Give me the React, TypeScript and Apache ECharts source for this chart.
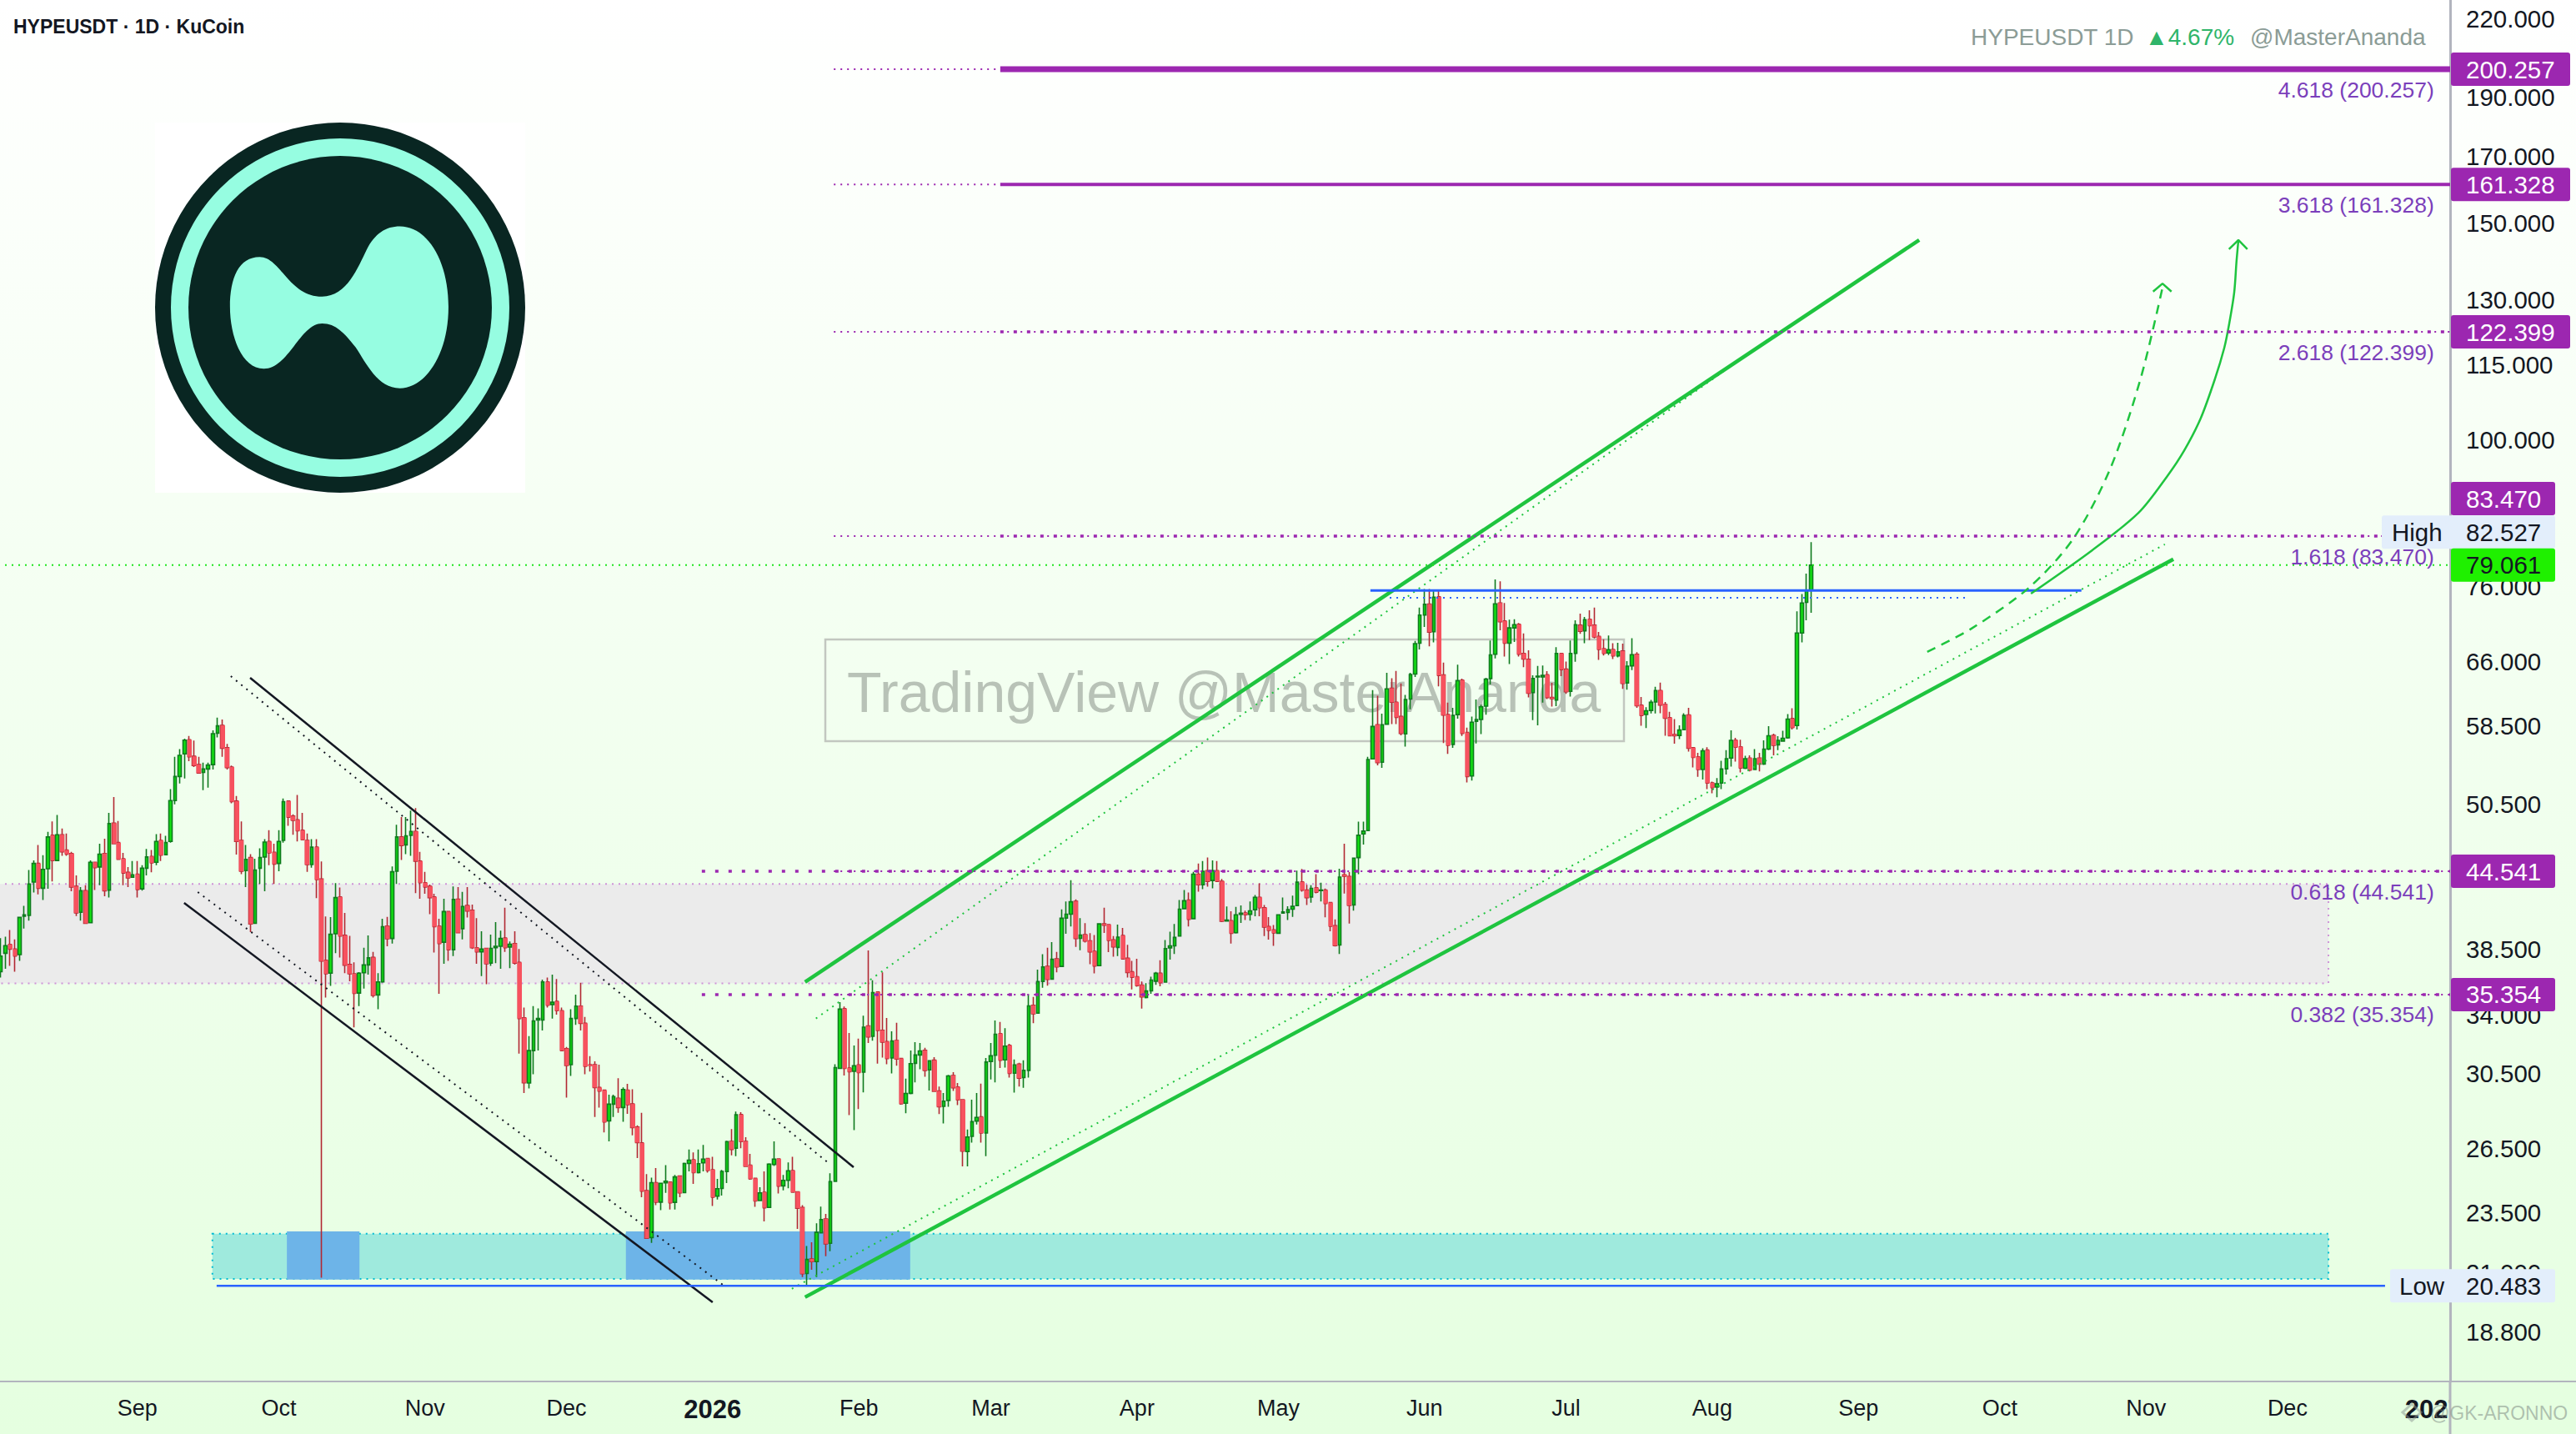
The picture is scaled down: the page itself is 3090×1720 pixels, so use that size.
import React, { useEffect, useRef } from "react";
import * as echarts from "echarts";

// ---------- data ----------
const firstDay = Date.UTC(2025, 7, 3);
const dayCount = 520;
const monthNames = ["", "Feb", "Mar", "Apr", "May", "Jun", "Jul", "Aug", "Sep", "Oct", "Nov", "Dec"];
const categories: string[] = [];
for (let i = 0; i < dayCount; i++) categories.push(new Date(firstDay + i * 86400000).toISOString().slice(0, 10));

const priceTicks = [220, 190, 170, 150, 130, 115, 100, 76, 66, 58.5, 50.5, 38.5, 34, 30.5, 26.5, 23.5, 21, 18.8];
const priceMin = 17.12;
const priceMax = 227.99;

// [open, close, low, high], one per day
const ohlc: number[][] = [
[36.9,38.0,36.5,39.3],[38.2,38.75,37.1,39.4],[38.84,38.5,37.3,39.9],[38.5,38.0,36.9,39.2],[38.1,40.85,37.65,40.9],
[40.95,41.05,40.0,41.75],[41.0,43.5,40.6,44.65],[43.65,45.2,42.8,45.45],[45.2,43.15,42.65,46.8],[43.15,44.7,42.2,45.9],
[44.75,47.5,43.1,47.95],[47.65,45.45,43.7,48.9],[45.45,47.7,45.4,49.5],[47.7,46.2,45.85,48.25],[46.35,46.0,45.85,47.8],
[46.05,43.25,42.9,46.2],[43.3,41.2,40.95,44.2],[41.25,42.95,40.6,43.25],[42.95,40.4,40.4,43.4],[40.45,45.3,40.4,45.45],
[45.3,44.85,43.0,45.3],[44.9,46.0,43.4,46.9],[46.05,42.95,42.5,47.35],[43.0,48.7,42.4,49.7],[48.75,46.9,46.85,51.2],
[47.0,45.55,45.55,48.95],[45.6,44.4,43.4,46.1],[44.45,44.0,43.25,44.9],[44.05,44.25,44.0,45.4],[44.3,43.05,42.4,45.4],
[43.1,44.8,42.95,45.05],[44.8,45.75,44.2,46.45],[45.8,45.25,44.45,46.35],[45.3,47.1,45.05,47.75],[47.2,45.9,45.4,47.8],
[45.95,47.0,45.95,47.6],[47.1,50.85,47.0,51.95],[50.85,53.2,50.5,55.2],[53.2,55.35,52.5,56.0],[55.5,56.95,53.0,57.1],
[57.0,55.2,54.75,57.4],[55.25,54.3,54.15,56.9],[54.4,53.55,53.5,55.2],[53.6,53.95,51.85,54.6],[53.95,54.35,52.1,54.6],
[54.4,57.65,53.9,58.0],[57.7,58.5,57.25,59.4],[58.55,56.1,55.2,59.2],[56.15,54.1,53.9,56.55],[54.15,50.75,50.6,54.3],
[50.8,47.1,45.95,51.3],[47.2,44.55,44.3,48.9],[44.6,45.55,43.25,46.8],[45.7,40.35,39.75,46.0],[40.4,44.65,40.4,45.6],
[44.8,45.7,43.5,46.5],[45.75,47.05,42.9,47.3],[47.1,46.1,45.05,48.1],[46.15,45.15,43.5,46.9],[45.2,47.1,44.55,48.1],
[47.2,50.75,47.0,51.05],[50.8,49.3,48.5,50.8],[49.4,49.0,47.7,49.55],[49.05,48.05,47.1,51.4],[48.1,47.25,47.25,49.7],
[47.2,45.1,44.5,47.8],[45.1,46.6,44.85,47.3],[46.6,43.85,42.35,47.3],
[43.9,37.64,20.8,45.37],[37.7,36.76,35.15,40.92],[36.8,39.58,35.93,40.88],[39.62,42.4,38.2,43.56],[42.45,39.45,37.9,43.2],
[39.5,37.35,36.8,41.2],[37.4,36.76,36.25,39.47],[36.76,35.43,33.25,37.55],[35.45,36.8,34.6,36.87],[36.83,37.37,35.75,38.6],
[37.37,37.87,36.7,39.5],[37.9,35.3,35.15,38.3],[35.33,36.2,34.4,36.8],[36.2,40.15,36.15,40.75],[40.2,39.25,38.7,40.9],
[39.27,44.5,38.9,44.95],[44.55,47.5,43.5,48.6],[47.5,46.75,45.5,49.3],[46.8,47.6,46.0,49.3],[47.65,48.0,45.85,49.9],
[48.0,45.4,42.75,50.15],[45.4,43.6,42.3,46.2],[43.6,43.25,42.7,44.5],[43.3,42.4,41.1,43.45],[42.45,40.15,38.25,42.7],
[40.2,38.9,35.4,40.75],[39.0,41.3,37.45,42.3],[41.3,38.45,37.65,41.3],[38.45,42.25,38.0,43.3],[42.27,39.7,39.7,43.25],
[40.0,41.7,39.2,42.85],[41.77,41.35,40.85,43.25],[41.4,38.6,38.5,41.85],[38.6,38.3,37.45,40.8],[38.3,38.5,36.6,39.8],
[38.55,37.45,36.05,38.55],[37.5,38.55,37.3,39.55],[38.6,38.7,37.5,40.5],[38.7,39.27,37.1,39.85],[39.3,38.6,38.3,41.6],
[38.65,38.85,37.15,39.05],[38.9,37.5,37.4,39.8],[37.55,33.8,31.65,38.5],[33.85,29.97,29.4,34.5],[29.95,31.83,29.65,32.7],
[31.83,33.65,30.45,34.6],[33.7,33.8,31.83,34.45],[33.7,36.2,33.05,36.35],[36.2,34.65,34.5,36.5],[34.7,34.85,33.8,36.7],
[34.9,34.3,34.05,36.4],[34.3,31.83,31.83,34.5],[31.95,30.95,29.15,32.05],[31.0,33.8,30.35,34.4],[33.8,34.6,33.4,35.35],
[34.6,33.5,33.05,36.15],[33.5,30.9,30.45,33.9],[31.0,30.95,30.6,31.5],[31.0,29.7,28.1,31.2],[29.7,29.5,28.6,31.0],
[29.55,27.84,27.3,29.55],[27.9,28.79,26.85,29.3],[28.79,29.2,28.1,29.3],
[29.11,28.61,28.32,30.22],[28.61,29.59,27.85,29.71],[29.56,28.76,28.27,29.91],[28.8,27.55,27.16,29.6],[27.58,26.79,26.02,27.67],
[26.77,24.46,24.18,28.32],[24.48,22.39,22.39,25.25],[22.42,24.85,22.2,25.09],[24.85,23.96,23.82,25.54],[23.96,24.82,23.6,24.82],
[24.84,24.92,24.38,25.68],[24.88,23.93,23.63,24.88],[23.95,25.12,23.63,25.21],[25.16,24.38,24.18,25.18],[24.39,25.76,24.38,25.8],
[25.76,25.92,25.38,26.44],[25.94,25.32,24.79,26.3],[25.32,25.75,25.28,26.44],[25.79,25.97,25.38,26.67],[26.0,25.42,25.32,26.0],
[25.46,24.18,23.79,26.08],[24.23,24.57,24.08,25.03],[24.58,25.38,24.26,25.45],[25.37,26.84,24.83,26.88],[26.85,26.45,26.16,27.48],
[26.51,28.22,26.12,28.39],[28.23,26.84,26.51,28.36],[26.85,25.62,25.6,27.06],[25.68,25.03,24.99,26.23],[25.05,24.01,23.75,25.08],
[24.03,24.38,24.01,24.64],[24.41,23.71,23.11,25.38],[23.72,25.73,23.7,25.77],[25.71,25.97,25.64,26.85],[25.98,24.69,24.35,25.98],
[24.7,24.96,24.49,25.21],[24.96,25.41,24.59,25.81],[25.42,24.41,24.41,26.08],[24.43,23.69,22.79,24.43],[23.72,20.95,20.82,23.82],
[20.96,21.52,20.483,22.07],[21.54,21.43,21.11,22.22],[21.43,22.64,20.82,23.03],[22.62,23.19,22.6,23.76],[23.22,22.16,21.65,23.44],
[22.18,24.9,21.85,25.29],[24.91,30.83,24.9,31.03],
[30.78,34.4,30.78,34.85],[34.43,30.78,30.38,34.57],[30.81,30.59,28.2,32.9],[30.62,30.94,27.42,32.14],[30.99,30.54,28.52,32.55],
[30.57,33.26,29.43,33.98],[33.33,32.66,32.29,38.4],[32.69,35.48,32.43,36.31],[35.52,33.06,31.06,35.52],[33.06,32.34,31.42,36.85],
[32.37,31.36,31.03,33.84],[31.39,32.41,30.5,33.0],[32.44,31.33,30.94,33.53],[31.36,28.81,28.76,31.36],[28.84,29.37,28.3,30.2],
[29.38,31.06,29.33,31.84],[31.08,31.57,29.99,32.34],[31.57,31.81,30.73,32.29],[31.84,30.67,30.3,32.0],[30.7,31.23,29.53,31.24],
[31.26,29.49,29.46,31.44],[29.51,28.65,28.26,29.76],[28.67,28.95,27.77,29.4],[28.99,30.35,28.65,30.41],[30.38,29.69,29.51,30.57],
[29.73,29.02,28.74,29.95],[29.03,26.36,25.62,29.03],[26.34,27.07,25.62,27.45],[27.1,27.86,26.79,29.03],[27.89,28.08,27.71,29.4],
[28.11,27.27,26.79,29.92],[27.27,31.15,26.12,31.39],[31.19,31.52,30.15,32.29],[31.55,32.82,29.99,33.68],[32.86,31.26,30.81,33.58],
[31.28,32.1,30.83,33.2],[32.14,30.5,30.26,32.24],[30.51,30.99,29.42,31.3],[31.03,30.23,29.76,31.11],[30.26,30.67,29.69,31.26],
[30.67,34.61,30.26,35.37],[34.65,34.1,33.5,35.2],[34.14,36.22,34.1,37.04],[36.23,37.23,35.8,38.13],[37.27,36.37,35.95,38.6],
[36.39,37.77,36.37,39.0],[37.8,37.23,36.85,38.3],[37.27,40.79,37.23,41.47],[40.8,41.1,39.62,42.1],[41.1,42.07,40.17,43.8],
[42.1,39.27,38.66,42.25],[39.28,39.52,38.41,40.79],[39.56,39.08,38.98,40.42],[39.1,38.3,37.42,39.66],[38.34,37.3,36.79,39.52],
[37.32,40.36,37.3,40.42],[40.36,40.26,39.68,41.6],[40.3,39.13,38.28,40.36],[39.17,38.66,37.95,39.45],[38.62,39.37,38.0,40.3],
[39.49,37.8,37.76,40.05],[37.84,36.85,36.5,38.8],[36.89,36.52,35.7,37.65],[36.56,35.95,35.87,37.8],[35.99,35.2,34.43,36.23],
[35.16,35.59,35.1,36.12],[35.6,36.33,35.4,36.56],
[36.25,36.79,36.0,36.89],[36.79,36.15,35.9,37.7],[36.19,38.53,36.15,39.15],[38.59,38.73,37.75,39.78],[38.73,39.35,38.15,40.35],
[39.45,41.49,39.43,42.2],[41.53,42.15,41.49,43.0],[42.2,40.71,40.17,42.8],[40.76,44.3,40.71,44.5],[44.3,43.43,42.87,45.2],
[43.43,44.54,43.07,45.4],[44.59,43.71,43.28,45.7],[43.78,44.59,43.14,45.45],[44.6,43.71,43.71,45.4],[43.71,40.56,40.5,43.9],
[40.58,40.65,40.54,41.7],[40.6,39.66,38.9,41.33],[39.7,41.05,39.64,41.67],[41.09,41.18,40.43,41.78],[41.2,41.05,40.65,41.38],
[41.09,41.36,40.6,42.1],[41.45,42.42,40.94,42.6],[42.42,41.6,40.94,43.55],[41.6,40.12,39.45,41.82],[40.16,39.87,39.19,40.88],
[39.91,39.68,38.73,40.28],[39.66,41.05,39.64,41.1],[41.18,41.27,41.15,42.4],[41.23,41.45,40.65,41.71],[41.49,41.71,40.9,42.56],
[41.76,43.64,41.71,44.59],[43.66,43.0,42.87,44.73],[43.0,42.4,41.82,43.43],[42.45,43.14,42.0,43.4],[43.19,42.83,42.74,44.3],
[42.96,43.0,42.1,43.6],[43.0,41.93,40.86,43.12],[42.0,40.18,39.81,42.04],[40.22,38.75,38.69,40.7],[38.79,44.06,38.15,44.75],
[44.25,44.13,42.72,46.9],[44.11,41.78,40.38,44.48],[41.82,45.65,41.38,45.7],[45.7,47.65,44.3,48.88],[47.77,48.02,46.83,48.88],
[48.07,54.92,48.02,55.2],[54.98,58.43,54.92,62.55],[58.62,54.61,54.32,61.9],[54.64,58.62,54.06,59.84],[58.68,62.7,58.62,64.6],
[62.77,61.15,58.68,63.96],[61.15,59.44,58.68,64.85],[59.53,57.68,57.46,63.33],[57.62,61.45,56.27,62.0],[61.5,64.4,60.35,64.6],
[64.46,68.24,64.1,68.6],[68.3,72.0,67.5,73.0],[72.0,73.46,70.4,75.6],[73.5,69.74,67.9,75.6],[69.77,74.45,68.4,75.4],
[74.5,64.3,63.0,75.5],[64.35,59.68,56.65,65.85],[59.74,56.4,55.5,61.1],[56.5,59.65,56.14,60.5],[59.74,63.67,59.3,65.6],
[63.73,57.68,57.4,63.9],[57.77,53.2,52.6,58.3],[53.25,58.9,52.8,59.53],[59.0,59.2,56.6,61.45],[59.2,60.63,57.6,60.85],
[60.7,63.84,59.74,64.0],
[63.92,66.82,63.2,68.65],[66.89,73.53,66.37,76.98],[73.65,71.11,69.98,76.7],[71.2,68.3,66.6,73.65],[68.3,70.28,65.68,71.37],
[70.28,70.71,68.46,71.44],[70.75,66.9,66.6,70.93],[67.0,66.3,65.3,69.55],[66.26,62.18,61.69,67.4],[62.25,63.92,59.12,64.3],
[64.1,64.2,58.56,65.44],[64.1,64.3,61.1,65.5],[64.37,61.69,61.5,64.8],[61.69,61.55,60.65,63.4],[61.4,67.0,60.7,67.8],
[67.0,65.0,64.2,67.0],[65.05,62.35,62.1,66.0],[62.4,67.0,61.8,68.65],[67.0,70.7,65.95,71.3],[70.64,69.85,69.5,72.2],
[69.9,71.37,68.3,71.73],[71.44,70.57,68.7,72.65],[70.64,69.1,68.9,73.0],[69.17,67.5,66.2,69.75],[67.6,67.0,66.75,68.8],
[67.06,67.47,66.8,69.3],[67.5,66.7,66.3,68.3],[66.7,67.2,66.5,68.35],[67.3,63.33,62.7,68.25],[63.4,65.43,62.6,66.05],
[65.46,66.85,64.95,68.95],[66.89,60.74,60.5,67.16],[60.8,59.65,58.5,61.75],[59.75,60.18,58.25,60.58],[60.21,61.14,59.87,61.42],
[61.17,62.5,59.87,62.93],[62.5,60.83,59.9,63.43],[60.89,59.34,57.42,61.17],[59.4,57.42,57.37,60.05],[57.55,57.42,56.57,59.25],
[57.45,58.04,57.07,58.56],[58.07,59.65,58.0,59.9],[59.7,56.1,55.75,60.5],[56.15,55.13,54.1,56.2],[55.2,53.9,53.16,55.6],
[53.9,55.83,52.9,56.1],[55.9,52.55,51.96,56.2],[52.57,52.1,51.56,52.7],[52.16,52.49,51.17,53.05],[52.55,53.95,51.96,54.8],
[53.97,55.0,53.4,55.9],[55.07,56.93,54.2,58.0],[56.95,56.2,54.7,57.2],[56.25,54.05,53.6,57.0],[54.03,55.0,53.95,55.3],
[55.07,53.85,53.7,55.35],[53.9,55.0,53.85,56.0],[55.07,54.45,53.7,55.6],[54.45,56.0,54.37,56.93],[56.0,57.42,55.9,58.47],
[57.45,56.4,55.35,57.65],[56.45,56.93,55.9,57.37],[56.85,57.15,56.8,57.95],[57.2,59.25,57.1,59.8],[59.3,58.3,58.1,60.47],
[58.53,69.62,58.1,72.5],[69.62,73.65,68.4,74.9],[73.73,75.45,71.3,77.8],[75.45,79.061,72.3,82.527],
];

const fibRatios = ["4.618", "3.618", "2.618", "1.618", "0.618", "0.382"];
const fibLevels = [200.257, 161.328, 122.399, 83.47, 44.541, 35.354];
const lastPrice = 79.061;
const highPrice = 82.527;
const lowPrice = 20.483;

// zones: [day from, day to, price a, price b]
const grayZone = [[0, 494.2, 43.5, 36.1]];
const tealZone = [[45.4, 494.2, 22.58, 20.75]];
const blueZones = [[61.2, 76.6, 22.68, 20.72], [133.1, 193.4, 22.68, 20.72]];

// trend lines: [day, price]
const upperChannel = [[171.1, 36.2], [407.4, 145.4]];
const lowerChannel = [[171.1, 20.05], [461.3, 79.95]];
const upperDotted = [[173.4, 33.8], [378.4, 123]];
const lowerDotted = [[168.3, 20.37], [459.5, 82.2]];
const fallUpper = [[53.4, 64.0], [181.4, 25.58]];
const fallLower = [[39.4, 41.98], [151.5, 19.86]];
const fallUpperDotted = [[49.3, 64.2], [175.7, 25.85]];
const fallLowerDotted = [[42.3, 42.84], [153.6, 20.53]];
const lowLine = [[46.3, lowPrice], [506.2, lowPrice]];
const resistance = [[291, 75.4], [441.8, 75.4]];
const resistanceDotted = [[295.1, 74.36], [417.3, 74.36]];
const lastLine = [[0, lastPrice], [520, lastPrice]];
const arrowCurve = [[431.1, 74.95], [444.1, 81.3], [453.9, 87.2], [460.0, 93.4], [463.6, 98.0], [467.1, 104.1], [470.1, 112], [472.1, 118.8], [473.1, 124], [474.2, 131.7], [474.7, 139.8], [475.1, 145.4]];
const arrowHead = [[473.1, 142.9], [475.1, 145.4], [477.0, 142.9]];
const dashedCurve = [[409.1, 67.2], [418.5, 70.2], [430.7, 75.8], [440.1, 83.1], [448, 94.9], [454.4, 112.3], [459, 133]];
const dashedHead = [[457.0, 132], [459, 134], [460.9, 132]];

// ---------- look ----------
const FONT = '"Liberation Sans", Arial, sans-serif';
const PURPLE = "#9c27b0";
const BLUE = "#2962ff";
const GREEN = "#1fc43f";
const BLACK = "#131722";
const AXIS = "#b2b5be";
const BLOB =
  "M378 745C378 640 410 565 485 565C560 565 590 708 710 708C800 708 840 600 870 540C900 480 940 455 990 455C1090 455 1165 580 1165 745C1165 920 1080 1038 990 1038C910 1038 870 950 830 890C790 840 760 805 710 805C630 805 590 968 500 968C420 968 378 850 378 745Z";
echarts.graphic.registerShape("logo", echarts.graphic.extendPath(BLOB, {}));

const line = (name: string, data: number[][], color: string, width: number, dash?: number[], smooth?: number, z = 6) => ({
  type: "line",
  name,
  xAxisIndex: 1,
  yAxisIndex: 0,
  data,
  symbol: "none",
  showSymbol: false,
  silent: true,
  smooth: smooth || false,
  z,
  lineStyle: { color, width, type: dash || "solid", cap: "butt" },
});

const zone = (name: string, data: number[][], fill: string, stroke: string | null, z: number) => ({
  type: "custom",
  name,
  xAxisIndex: 1,
  yAxisIndex: 0,
  silent: true,
  z,
  data,
  encode: { x: [0, 1], y: [2, 3] },
  renderItem: (_: any, api: any) => {
    const a = api.coord([api.value(0), api.value(2)]);
    const b = api.coord([api.value(1), api.value(3)]);
    return {
      type: "rect",
      shape: { x: a[0], y: a[1], width: b[0] - a[0], height: b[1] - a[1] },
      style: { fill, stroke: stroke || undefined, lineWidth: 2, lineDash: stroke ? [2, 6] : undefined },
    };
  },
});

const upRows = ohlc.map((c) => (c[1] >= c[0] ? c : ["-", "-", "-", "-"]));
const downRows = ohlc.map((c) => (c[1] < c[0] ? c : ["-", "-", "-", "-"]));
const downBodies = ohlc.map((c, i) => [i, c[0], c[1]]).filter((r) => r[2] < r[1]);

const fibThin = fibLevels.map((p, i) => line("fib thin " + fibRatios[i], [[177.2, p], [i < 2 ? 212.5 : 520, p]], PURPLE, 2, [2, 6]));
const fibWide = fibLevels.map((p, i) => {
  const start = i >= 4 ? 149.2 : 212.5;
  if (i === 0) return line("fib " + fibRatios[i], [[start, p], [520, p]], PURPLE, 7);
  if (i === 1) return line("fib " + fibRatios[i], [[start, p], [520, p]], PURPLE, 4);
  return line("fib " + fibRatios[i], [[start, p], [520, p]], PURPLE, 3.5, [4, 12]);
});

const option: any = {
  animation: false,
  backgroundColor: "transparent",
  grid: { left: -2, right: 151, top: 0, bottom: 63, containLabel: false, outerBoundsMode: "none" },
  xAxis: [
    {
      type: "category",
      data: categories,
      boundaryGap: true,
      axisLine: { show: true, lineStyle: { color: AXIS, width: 2 } },
      axisTick: { show: false },
      splitLine: { show: false },
      axisLabel: {
        margin: 18,
        fontFamily: FONT,
        fontSize: 27,
        color: BLACK,
        interval: (_: number, v: string) => v.endsWith("-01"),
        formatter: (v: string) => {
          const m = Number(v.slice(5, 7)) - 1;
          return m === 0 ? "{year|" + v.slice(0, 4) + "}" : monthNames[m];
        },
        rich: { year: { fontFamily: FONT, fontSize: 31, fontWeight: "bold", color: BLACK } },
      },
    },
    { type: "value", min: 0, max: dayCount, show: false, splitLine: { show: false } },
  ],
  yAxis: {
    type: "log",
    min: priceMin,
    max: priceMax,
    position: "right",
    axisLine: { show: true, onZero: false, lineStyle: { color: AXIS, width: 3 } },
    axisTick: { show: false },
    axisLabel: { show: false },
    splitLine: { show: false },
    minorTick: { show: false },
  },
  graphic: [
    { type: "rect", z: 1, shape: { x: 186, y: 147, width: 444, height: 444 }, style: { fill: "#ffffff" } },
    { type: "circle", z: 1, shape: { cx: 408, cy: 369, r: 222 }, style: { fill: "#092622" } },
    { type: "circle", z: 1, shape: { cx: 408, cy: 369, r: 203 }, style: { fill: "#96fde1" } },
    { type: "circle", z: 1, shape: { cx: 408, cy: 369, r: 182 }, style: { fill: "#092622" } },
    { type: "logo", z: 1, x: 150, y: 120, scaleX: 1 / 3, scaleY: 1 / 3, style: { fill: "#96fde1" } },
    { type: "rect", z: 2, shape: { x: 990, y: 767, width: 958, height: 122 }, style: { fill: "none", stroke: "#c2c7c0", lineWidth: 2.5 } },
    { type: "text", z: 2, x: 1016, y: 830, style: { text: "TradingView @MasterAnanda", font: "68px " + FONT, fill: "rgba(130,138,130,0.52)", verticalAlign: "middle", align: "left" } },
    { type: "text", z: 20, x: 16, y: 32, style: { text: "HYPEUSDT · 1D · KuCoin", font: "bold 23px " + FONT, fill: BLACK, verticalAlign: "middle", align: "left" } },
    { type: "text", z: 20, x: 2364, y: 44, style: { text: "HYPEUSDT 1D", font: "28px " + FONT, fill: "#8b9c96", verticalAlign: "middle", align: "left" } },
    { type: "text", z: 20, x: 2573, y: 44, style: { text: "▲4.67%", font: "28px " + FONT, fill: "#2fb56a", verticalAlign: "middle", align: "left" } },
    { type: "text", z: 20, x: 2699, y: 44, style: { text: "@MasterAnanda", font: "28px " + FONT, fill: "#8b9c96", verticalAlign: "middle", align: "left" } },
    { type: "rect", z: 100, shape: { x: 2940, y: 1659, width: 150, height: 61 }, style: { fill: "#e5ffe0" } },
    { type: "line", z: 101, shape: { x1: 2939, y1: 1657, x2: 2939, y2: 1720 }, style: { stroke: AXIS, lineWidth: 3 } },
    { type: "line", z: 101, shape: { x1: 2939, y1: 1657, x2: 3090, y2: 1657 }, style: { stroke: AXIS, lineWidth: 2 } },
    { type: "polygon", z: 102, shape: { points: [[2893, 1684], [2904, 1694], [2893, 1704], [2882, 1694]] }, style: { fill: "none", stroke: "rgba(140,150,145,0.5)", lineWidth: 3 } },
    { type: "text", z: 102, x: 2915, y: 1695, style: { text: "@GK-ARONNO", font: "23px " + FONT, fill: "rgba(120,130,125,0.5)", verticalAlign: "middle", align: "left" } },
  ],
  series: [
    zone("Gray zone", grayZone, "#ebebeb", "#ce93d8", 1),
    zone("Teal zone", tealZone, "#9feadd", "#00bcd4", 1),
    zone("Blue zones", blueZones, "#6db4e8", null, 1),
    {
      type: "candlestick",
      name: "Down days",
      xAxisIndex: 0,
      yAxisIndex: 0,
      data: downRows,
      barWidth: 4,
      silent: true,
      z: 3,
      itemStyle: { color: "#f7525f", color0: "#f7525f", borderColor: "#b22833", borderColor0: "#b22833", borderWidth: 1.6 },
    },
    {
      type: "custom",
      name: "Down bodies",
      xAxisIndex: 0,
      yAxisIndex: 0,
      silent: true,
      z: 4,
      data: downBodies,
      encode: { x: 0, y: [1, 2] },
      renderItem: (_: any, api: any) => {
        const a = api.coord([api.value(0), api.value(1)]);
        const b = api.coord([api.value(0), api.value(2)]);
        return {
          type: "rect",
          shape: { x: Math.round(a[0]) - 2.5, y: a[1], width: 5.5, height: Math.max(b[1] - a[1], 1.5) },
          style: { fill: "#f7525f" },
        };
      },
    },
    {
      type: "candlestick",
      name: "HYPEUSDT",
      xAxisIndex: 0,
      yAxisIndex: 0,
      data: upRows,
      barWidth: 4,
      silent: true,
      z: 5,
      itemStyle: { color: "#12e012", color0: "#12e012", borderColor: "#0f7a1e", borderColor0: "#0f7a1e", borderWidth: 1.6 },
    },
    line("Channel upper", upperChannel, GREEN, 4.5),
    line("Channel lower", lowerChannel, GREEN, 4.5),
    line("Channel upper dotted", upperDotted, GREEN, 2, [2, 6]),
    line("Channel lower dotted", lowerDotted, GREEN, 2, [2, 6]),
    line("Fall upper", fallUpper, BLACK, 2.5),
    line("Fall lower", fallLower, BLACK, 2.5),
    line("Fall upper dotted", fallUpperDotted, BLACK, 2, [2, 6]),
    line("Fall lower dotted", fallLowerDotted, BLACK, 2, [2, 6]),
    line("Low", lowLine, BLUE, 2.5),
    line("Resistance", resistance, BLUE, 3),
    line("Resistance dotted", resistanceDotted, BLUE, 2, [2, 6]),
    line("Last", lastLine, "#1ee61e", 2, [2, 6]),
    line("Arrow", arrowCurve, GREEN, 2.5, undefined, 0.3),
    line("Arrow head", arrowHead, GREEN, 2.5),
    line("Dashed arrow", dashedCurve, GREEN, 2.5, [11, 8], 0.3),
    line("Dashed head", dashedHead, GREEN, 2.5),
    ...fibThin,
    ...fibWide,
    {
      type: "custom",
      name: "Fib labels",
      xAxisIndex: 1,
      yAxisIndex: 0,
      silent: true,
      z: 8,
      data: fibLevels.map((p) => [516.6, p]),
      encode: { x: 0, y: 1 },
      renderItem: (params: any, api: any) => {
        const c = api.coord([api.value(0), api.value(1)]);
        return {
          type: "text",
          x: c[0],
          y: c[1] + 24.5,
          style: {
            text: fibRatios[params.dataIndex] + " (" + api.value(1).toFixed(3) + ")",
            font: "26.5px " + FONT,
            fill: "#7b3fbb",
            align: "right",
            verticalAlign: "middle",
          },
        };
      },
    },
    {
      type: "custom",
      name: "Price ticks",
      xAxisIndex: 1,
      yAxisIndex: 0,
      silent: true,
      z: 9,
      data: priceTicks.map((p) => [dayCount, p]),
      encode: { x: 0, y: 1 },
      renderItem: (_: any, api: any) => {
        const c = api.coord([api.value(0), api.value(1)]);
        return {
          type: "text",
          x: c[0] + 19,
          y: c[1],
          style: { text: api.value(1).toFixed(3), font: "29.5px " + FONT, fill: BLACK, align: "left", verticalAlign: "middle" },
        };
      },
    },
    {
      type: "custom",
      name: "Price badges",
      xAxisIndex: 1,
      yAxisIndex: 0,
      silent: true,
      z: 10,
      data: [
        [dayCount, fibLevels[0]],
        [dayCount, fibLevels[1]],
        [dayCount, fibLevels[2]],
        [dayCount, fibLevels[3]],
        [dayCount, highPrice],
        [dayCount, lastPrice],
        [dayCount, fibLevels[4]],
        [dayCount, fibLevels[5]],
        [dayCount, lowPrice],
      ],
      encode: { x: 0, y: 1 },
      renderItem: (params: any, api: any) => {
        const i = params.dataIndex;
        const c = api.coord([api.value(0), api.value(1)]);
        const dy = i === 3 ? -45 : i === 4 ? -12 : 0;
        const cy = c[1] + dy;
        const wide = i < 3;
        const tag = i === 4 ? "High" : i === 8 ? "Low" : "";
        const fill = tag ? "#e3eefb" : i === 5 ? "#1ff000" : PURPLE;
        const textFill = tag || i === 5 ? BLACK : "#ffffff";
        const left = tag ? (i === 4 ? c[0] - 82 : c[0] - 72) : c[0] + 1;
        const right = c[0] + (wide ? 144 : 126);
        const children: any[] = [
          { type: "rect", shape: { x: left, y: cy - 20, width: right - left, height: 40, r: 3 }, style: { fill } },
          {
            type: "text",
            x: c[0] + 19,
            y: cy,
            style: { text: api.value(1).toFixed(3), font: "29.5px " + FONT, fill: textFill, align: "left", verticalAlign: "middle" },
          },
        ];
        if (tag) {
          children.push({
            type: "text",
            x: i === 4 ? c[0] - 70 : c[0] - 61,
            y: cy,
            style: { text: tag, font: "29.5px " + FONT, fill: BLACK, align: "left", verticalAlign: "middle" },
          });
        }
        return { type: "group", children };
      },
    },
  ],
};

export default function App() {
  const ref = useRef<HTMLDivElement>(null);
  useEffect(() => {
    document.body.style.margin = "0";
    const chart = echarts.init(ref.current!, undefined, { renderer: "svg" });
    chart.setOption(option);
    return () => chart.dispose();
  }, []);
  return (
    <div
      ref={ref}
      style={{ width: 3090, height: 1720, background: "linear-gradient(180deg, #ffffff 0%, #e5ffe0 100%)" }}
    />
  );
}
